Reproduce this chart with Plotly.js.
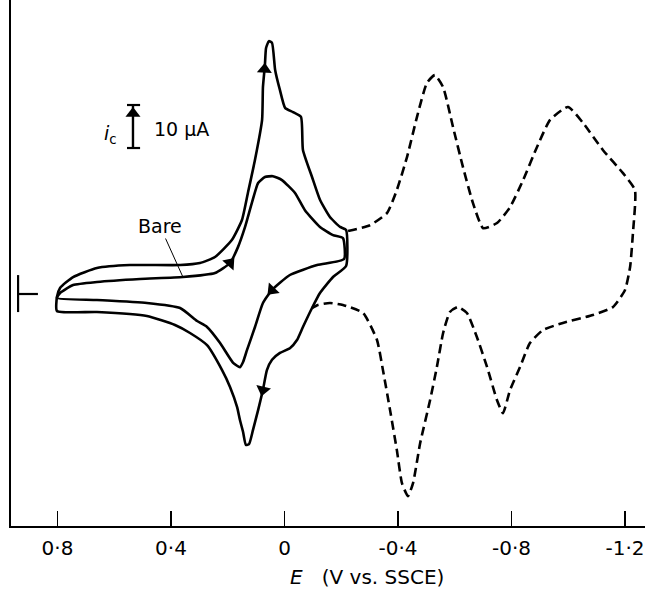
<!DOCTYPE html>
<html>
<head>
<meta charset="utf-8">
<script src="https://cdn.plot.ly/plotly-3.0.1.min.js"></script>
<style>html,body{margin:0;padding:0;background:#fff;}#chart{width:645px;height:593px;}</style>
</head>
<body>
<div id="chart"></div>
<script>
// Potential E (V vs. SSCE) and current i (µA, cathodic up)
// Modified electrode, solid loop
const modE = [0.802,0.791,0.745,0.661,0.545,0.368,0.298,0.245,0.185,0.150,0.129,0.104,0.079,0.076,0.069,0.065,0.055,0.044,0.033,0.016,-0.002,-0.030,-0.058,-0.065,-0.097,-0.125,-0.160,-0.196,-0.217,
  -0.217,-0.171,-0.125,-0.097,-0.065,-0.044,-0.019,0.016,0.044,0.062,0.076,0.093,0.111,0.125,0.136,0.146,0.157,0.167,0.192,0.220,0.273,0.333,0.386,0.485,0.661,0.802,0.802];
const modI = [-0.70,1.40,3.95,6.05,6.74,6.74,7.21,8.60,12.6,17.2,23.5,31.2,40.5,48.1,53.3,57.2,58.8,58.4,52.1,47.4,43.3,42.3,41.2,33.5,27.2,21.9,17.9,15.6,14.9,
  6.5,3.95,0.23,-3.26,-7.67,-10.7,-12.6,-13.7,-15.3,-17.7,-22.3,-27.0,-31.6,-34.9,-35.1,-32.1,-29.3,-26.3,-21.6,-17.7,-11.9,-9.07,-7.21,-5.12,-4.19,-3.95,-0.70];
// Bare electrode, solid loop
const bareE = [0.802,0.791,0.745,0.661,0.509,0.358,0.245,0.192,0.164,0.139,0.115,0.093,0.069,0.041,0.009,-0.037,-0.072,-0.125,-0.171,-0.206,
  -0.210,-0.115,-0.019,0.044,0.076,0.104,0.132,0.146,0.157,0.181,0.227,0.273,0.308,0.368,0.485,0.661,0.802];
const bareI = [-0.93,0.23,2.09,2.79,3.49,3.95,4.88,7.21,10.9,15.6,21.2,25.8,27.2,27.4,26.5,23.5,19.5,15.6,13.7,13.0,
  8.14,6.74,4.42,0.93,-2.09,-7.67,-13.0,-15.8,-17.0,-16.0,-11.4,-7.67,-6.28,-3.26,-2.09,-1.40,-0.93];
// Extended scan, dashed
const extE = [-0.224,-0.301,-0.361,-0.396,-0.432,-0.467,-0.502,-0.530,-0.559,-0.594,-0.629,-0.664,-0.700,-0.749,-0.795,-0.841,-0.890,-0.936,-0.999,-1.052,-1.122,-1.193,-1.235,
  -1.228,-1.218,-1.200,-1.158,-1.087,-0.981,-0.911,-0.865,-0.830,-0.795,-0.770,-0.749,-0.714,-0.678,-0.643,-0.611,-0.583,-0.559,-0.537,-0.513,-0.478,-0.453,-0.435,-0.414,-0.396,-0.372,-0.347,-0.326,-0.277,-0.206,-0.160,-0.118,-0.097];
const extI = [14.65,16.0,18.8,24.2,31.9,41.2,49.1,50.9,48.1,38.8,29.5,21.2,15.3,16.5,20.2,26.5,34.2,40.5,43.5,39.8,33.5,28.1,24.2,
  14.2,6.28,0.93,-3.02,-4.88,-6.74,-8.37,-11.4,-17.0,-22.3,-27.7,-24.7,-17.0,-10.0,-4.42,-3.02,-4.19,-9.07,-17.0,-24.7,-34.7,-44.0,-47.0,-44.0,-36.3,-27.0,-17.7,-10.7,-4.42,-2.56,-2.09,-2.56,-3.26];

const tickVals = [0.8,0.4,0,-0.4,-0.8,-1.2];
const tickText = ['0·8','0·4','0','-0·4','-0·8','-1·2'];

const FONT = 'DejaVu Sans, Arial, sans-serif';
const solid = {color:'#000', width:2.6, shape:'spline', smoothing:0.5};

// scan-direction arrowheads, placed on the curves
function lerp(a, i, f) { return a[i] * (1 - f) + a[i + 1] * f; }
const barE = 0.534, barLo = 33.95, barHi = barLo + 10;
const arrowX = [lerp(modE,13,0.8), bareE[7], bareE[23], modE[39], barE];
const arrowY = [lerp(modI,13,0.8), bareI[7], bareI[23], modI[39], barHi - 2.0];
const arrowAngle = [3, 41, 224, 193, 0];

const traces = [
  {x:modE, y:modI, mode:'lines', line:solid, hoverinfo:'skip'},
  {x:bareE, y:bareI, mode:'lines', line:solid, hoverinfo:'skip'},
  {x:extE, y:extI, mode:'lines', line:{color:'#000', width:2.6, dash:'9px,5px', shape:'spline', smoothing:0.5}, hoverinfo:'skip'},
  {x:arrowX, y:arrowY, mode:'markers', marker:{symbol:'triangle-up', size:13, color:'#000', angle:arrowAngle, line:{width:0}}, hoverinfo:'skip'}
];

const annotations = [
  {x:bareE[5], y:bareI[5], xref:'x', yref:'y', ax:-23, ay:-51, text:'Bare', showarrow:true, arrowhead:0, arrowwidth:1, arrowcolor:'#000',
   font:{family:FONT, size:19, color:'#000'}},
  {x:0.615, y:37.2, xref:'x', yref:'y', text:'<i>i</i><sub>c</sub>', showarrow:false, font:{family:FONT, size:19, color:'#000'}},
  {x:0.363, y:38.4, xref:'x', yref:'y', text:'10 μA', showarrow:false, font:{family:FONT, size:19, color:'#000'}},
  {x:0.5615, y:-0.097, xref:'paper', yref:'paper', xanchor:'center', yanchor:'middle', showarrow:false,
   text:'<i>E</i>   (V vs. SSCE)', font:{family:FONT, size:20, color:'#000'}}
];
const shapes = [
  {type:'line', xref:'x', yref:'y', x0:barE, x1:barE, y0:barLo, y1:barHi, line:{color:'#000', width:2.4}},
  {type:'line', xref:'x', yref:'y', x0:0.555, x1:0.509, y0:barLo, y1:barLo, line:{color:'#000', width:2.2}},
  {type:'line', xref:'x', yref:'y', x0:0.555, x1:0.509, y0:barHi, y1:barHi, line:{color:'#000', width:2.2}},
  // zero-current marker
  {type:'line', xref:'x', yref:'y', x0:0.939, x1:0.939, y0:-4.2, y1:4.4, line:{color:'#000', width:2.2}},
  {type:'line', xref:'x', yref:'y', x0:0.939, x1:0.869, y0:0, y1:0, line:{color:'#000', width:2.2}}
];

const layout = {
  width:645, height:593,
  margin:{l:11, r:0, t:0, b:67},
  paper_bgcolor:'#fff', plot_bgcolor:'#fff',
  showlegend:false,
  font:{family:FONT, color:'#000'},
  xaxis:{range:[0.9639,-1.2705], showgrid:false, zeroline:false, showline:true, linecolor:'#000', linewidth:1.6,
    ticks:'inside', ticklen:15, tickwidth:1.4, tickcolor:'#000', tickvals:tickVals, ticktext:tickText,
    tickfont:{family:FONT, size:20, color:'#000'}, ticklabelstandoff:3},
  yaxis:{range:[-53.95,68.37], showgrid:false, zeroline:false, showline:true, linecolor:'#000', linewidth:1.6,
    ticks:'', showticklabels:false},
  annotations:annotations,
  shapes:shapes
};
Plotly.newPlot('chart', traces, layout, {staticPlot:true, displayModeBar:false});
</script>
</body>
</html>
